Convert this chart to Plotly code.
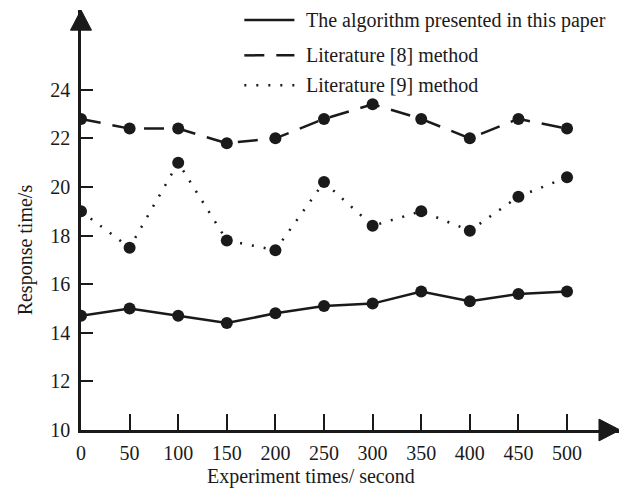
import plotly.graph_objects as go

x_vals = [0, 50, 100, 150, 200, 250, 300, 350, 400, 450, 500]
proposed = [14.7, 15.0, 14.7, 14.4, 14.8, 15.1, 15.2, 15.7, 15.3, 15.6, 15.7]
lit8 = [22.8, 22.4, 22.4, 21.8, 22.0, 22.8, 23.4, 22.8, 22.0, 22.8, 22.4]
lit9 = [19.0, 17.5, 21.0, 17.8, 17.4, 20.2, 18.4, 19.0, 18.2, 19.6, 20.4]
names = ["The algorithm presented in this paper", "Literature [8] method", "Literature [9] method"]
dashes = ["solid", "20px,12px", "2px,10px"]
y_ticks = [10, 12, 14, 16, 18, 20, 22, 24]

FONT = "Liberation Serif"
INK = "#1a1a1a"
fig = go.Figure()
for vals, dash in zip([proposed, lit8, lit9], dashes):
    fig.add_trace(go.Scatter(
        x=x_vals, y=vals, mode="lines+markers",
        line=dict(color=INK, width=2.5, dash=dash),
        marker=dict(color=INK, size=12, symbol="circle"),
        showlegend=False, hoverinfo="skip"))

# manual legend
leg_y = [0.976, 0.892, 0.821]
shapes = []
annotations = []
for name, dash, ly in zip(names, dashes, leg_y):
    shapes.append(dict(type="line", xref="paper", yref="paper",
                       x0=0.303, x1=0.396, y0=ly, y1=ly,
                       line=dict(color=INK, width=2.5, dash=dash)))
    annotations.append(dict(text=name, xref="paper", yref="paper", x=0.414, y=ly,
                            xanchor="left", yanchor="middle", showarrow=False,
                            font=dict(family=FONT, size=20, color=INK)))

# arrowheads
shapes.append(dict(type="path", xref="paper", yref="paper",
                   path="M 1,0 L 0.961,0.026 L 0.961,-0.026 Z",
                   fillcolor=INK, line=dict(color=INK, width=1)))
shapes.append(dict(type="path", xref="paper", yref="paper",
                   path="M 0,1 L -0.0195,0.952 L 0.0195,0.952 Z",
                   fillcolor=INK, line=dict(color=INK, width=1)))

annotations.append(dict(text="Response time/s", xref="paper", yref="paper",
                        x=-0.104, y=0.43, textangle=-90, showarrow=False,
                        xanchor="center", yanchor="middle",
                        font=dict(family=FONT, size=20, color=INK)))
annotations.append(dict(text="Experiment times/ second", xref="paper", yref="paper",
                        x=0.427, y=-0.11, showarrow=False,
                        xanchor="center", yanchor="middle",
                        font=dict(family=FONT, size=20, color=INK)))

fig.update_layout(
    width=619, height=480,
    margin=dict(l=73, r=7, t=2, b=58, autoexpand=False),
    paper_bgcolor="white", plot_bgcolor="white",
    shapes=shapes, annotations=annotations,
    font=dict(family=FONT, size=20, color=INK),
    xaxis=dict(range=[0, 554.5], tickvals=x_vals, ticks="inside", ticklen=16,
               tickwidth=2, tickcolor=INK, showline=True, linewidth=2.5,
               linecolor=INK, showgrid=False, zeroline=False,
               ticklabelstandoff=3,
               tickfont=dict(family=FONT, size=20)),
    yaxis=dict(range=[10, 27.28], tickvals=y_ticks, ticks="inside", ticklen=12,
               tickwidth=2, tickcolor=INK, showline=True, linewidth=2.5,
               linecolor=INK, showgrid=False, zeroline=False,
               ticklabelstandoff=4,
               tickfont=dict(family=FONT, size=20)),
)
fig.write_html("out.html")
